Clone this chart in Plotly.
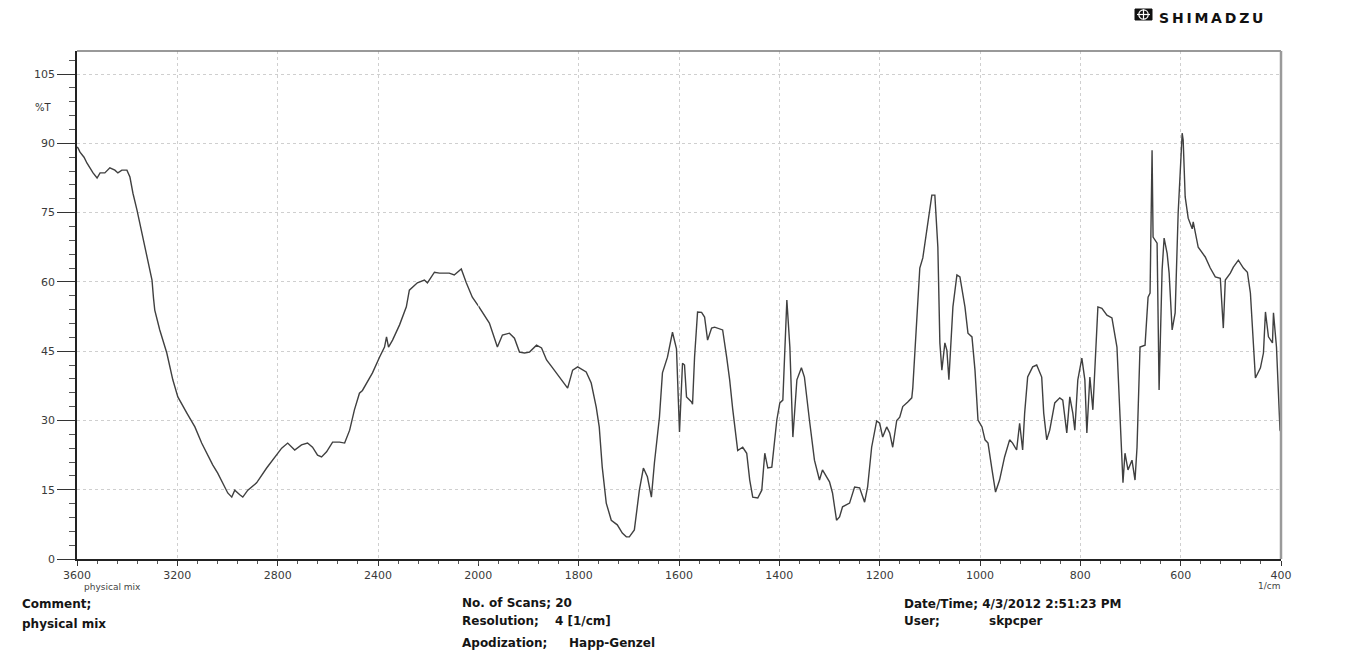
import plotly.graph_objects as go

# ---------------- data ----------------
WAVENUMBER = [
    3600, 3596, 3588, 3580, 3572, 3560, 3548, 3536, 3520, 3508, 3489, 3469, 3449, 3437,
    3421, 3401, 3389, 3377, 3361, 3341, 3317, 3301, 3295, 3290, 3270, 3242, 3218, 3198,
    3162, 3130, 3103, 3083, 3059, 3039, 3019, 2999, 2983, 2971, 2951, 2939, 2919, 2884,
    2844, 2804, 2784, 2760, 2732, 2705, 2681, 2661, 2641, 2625, 2605, 2581, 2553, 2533,
    2513, 2494, 2474, 2462, 2422, 2394, 2374, 2366, 2362, 2358, 2342, 2314, 2287, 2275,
    2243, 2215, 2203, 2175, 2155, 2116, 2096, 2068, 2048, 2024, 2000,
    1992, 1978, 1962, 1952, 1938, 1928, 1918, 1908, 1898, 1884, 1874, 1864, 1852, 1838,
    1824, 1822, 1812, 1802, 1785, 1775, 1765, 1759, 1753, 1745, 1735, 1723, 1713, 1705,
    1699, 1689, 1679, 1671, 1663, 1655, 1649, 1639, 1633, 1623, 1613, 1605, 1599, 1593,
    1589, 1585, 1575, 1573, 1569, 1563, 1555, 1549, 1543, 1535, 1529, 1519, 1513, 1505,
    1499, 1493, 1483, 1473, 1465, 1459, 1453, 1443, 1435, 1429, 1423, 1415, 1405, 1399,
    1393, 1385, 1379, 1373, 1365, 1356, 1350, 1340, 1330, 1320, 1314, 1300, 1294, 1286,
    1280, 1274, 1266, 1260, 1250, 1240, 1230, 1224, 1216, 1206, 1200, 1194, 1186, 1180,
    1174, 1166, 1160, 1154, 1144, 1136, 1134, 1126, 1120, 1114, 1104, 1096, 1090, 1084,
    1080, 1076, 1070, 1066, 1062, 1054, 1046, 1040, 1030, 1024, 1016, 1010, 1004, 996,
    990, 984, 976, 969, 961, 951, 941, 935, 927, 921, 915, 911, 905, 895, 887, 877, 873,
    867, 861, 851, 841, 835, 827, 821, 815, 811, 805, 797, 791, 787, 781, 775, 765, 757,
    747, 737, 727, 721, 715, 711, 705, 697, 691, 687, 681, 671, 665, 661, 657, 655, 647,
    643, 637, 633, 627, 623, 617, 611, 605, 597, 595, 591, 585, 577, 575, 565, 551, 541,
    531, 521, 515, 511, 501, 495, 485, 475, 467, 461, 451, 441, 435, 431, 425, 417, 415,
    409, 405, 402, 400,
]
TRANSMITTANCE = [
    89.2, 89.0, 88.1, 87.5, 87.0, 85.7, 84.5, 83.6, 82.5, 83.6, 83.6, 84.7, 84.2, 83.6,
    84.2, 84.2, 82.7, 79.2, 75.6, 70.6, 64.1, 60.4, 56.5, 53.9, 49.6, 44.6, 38.8, 35.1,
    31.6, 28.6, 25.1, 22.9, 20.4, 18.6, 16.5, 14.3, 13.4, 14.9, 13.9, 13.4, 14.9, 16.5,
    19.7, 22.5, 24.0, 25.1, 23.6, 24.7, 25.1, 24.2, 22.5, 22.1, 23.2, 25.3, 25.3, 25.1,
    27.9, 32.3, 35.9, 36.5, 40.3, 43.7, 45.9, 48.1, 46.5, 45.9, 47.4, 50.7, 54.6, 58.2,
    59.8, 60.4, 59.8, 62.1, 61.9, 61.9, 61.5, 62.8, 59.8, 56.7, 54.8,
    53.5, 51.1, 45.9, 48.5, 48.9, 47.8, 44.8, 44.6, 44.8, 46.3, 45.7, 43.1, 41.4, 39.4,
    37.2, 37.0, 40.9, 41.6, 40.5, 38.1, 32.9, 28.6, 19.9, 12.1, 8.4, 7.4, 5.6, 4.8,
    4.8, 6.3, 14.9, 19.7, 17.8, 13.4, 20.8, 30.7, 40.3, 43.7, 49.1, 45.5, 27.5, 42.4,
    42.0, 35.1, 34.0, 33.5, 43.7, 53.5, 53.4, 52.4, 47.4, 50.0, 50.2, 49.8, 49.6, 43.7,
    38.8, 32.5, 23.5, 24.2, 22.9, 17.1, 13.4, 13.2, 14.9, 22.9, 19.7, 19.9, 30.1, 33.8,
    34.4, 56.1, 45.9, 26.4, 38.8, 41.4, 39.4, 30.1, 21.4, 17.1, 19.3, 16.7, 14.3, 8.4,
    9.1, 11.3, 11.7, 12.1, 15.6, 15.4, 12.3, 15.6, 24.2, 29.9, 29.4, 26.4, 28.6, 27.3,
    24.2, 30.0, 30.7, 33.0, 34.0, 34.9, 37.0, 52.5, 63.0, 65.2, 72.7, 78.8, 78.8, 67.5,
    46.8, 40.9, 46.8, 45.2, 38.8, 54.6, 61.5, 61.1, 54.6, 48.9, 48.1, 40.9, 30.1, 28.6,
    25.8, 25.1, 19.3, 14.5, 17.1, 22.1, 25.8, 25.1, 23.6, 29.4, 23.6, 31.6, 39.4, 41.6,
    42.0, 39.4, 31.6, 25.8, 27.9, 33.8, 34.9, 34.4, 27.3, 35.1, 31.6, 27.9, 38.8, 43.5,
    38.8, 27.3, 39.4, 32.3, 54.6, 54.3, 52.8, 52.2, 45.9, 31.6, 16.5, 22.9, 19.3, 21.4,
    17.1, 24.2, 45.9, 46.3, 56.7, 57.6, 88.5, 69.7, 68.4, 36.6, 62.6, 69.5, 66.2, 61.9,
    49.6, 53.3, 74.9, 92.2, 90.7, 78.4, 73.8, 71.5, 73.0, 67.5, 65.4, 63.0, 61.1, 60.8,
    50.0, 60.4, 61.9, 63.2, 64.7, 63.0, 62.1, 57.6, 39.2, 41.4, 44.6, 53.5, 48.1, 46.8,
    53.3, 45.9, 37.2, 27.9, 27.5,
]
X_TICKS_LEFT = [3600, 3200, 2800, 2400, 2000]
X_TICKS_RIGHT = [1800, 1600, 1400, 1200, 1000, 800, 600, 400]
Y_TICKS = [0, 15, 30, 45, 60, 75, 90, 105]
SCALE_BREAK = 2000  # scale changes at 2000 1/cm

# ---------------- layout helpers ----------------
# the page body has an 8px margin, so the figure is drawn 8px right/down
PAGE_W, PAGE_H, BODY = 1364, 656, 8
W, H = PAGE_W - BODY, PAGE_H - BODY
L, R, T, B = 77, 1281, 51, 559   # plot area in page pixels


def pxx(x):
    return (x - L) / (R - L)


def pxy(y):
    return (B - y) / (B - T)


left_x = [w for w in WAVENUMBER if w >= SCALE_BREAK]
left_y = [t for w, t in zip(WAVENUMBER, TRANSMITTANCE) if w >= SCALE_BREAK]
right_x = [w for w in WAVENUMBER if w <= SCALE_BREAK]
right_y = [t for w, t in zip(WAVENUMBER, TRANSMITTANCE) if w <= SCALE_BREAK]

LINE = dict(color="#404040", width=1.4)
TICKFONT = dict(family="DejaVu Sans", size=11, color="#3a3a3a")
TEXTFONT = dict(family="DejaVu Sans", size=12, color="#151515", weight="bold")

fig = go.Figure()
fig.add_trace(go.Scatter(x=left_x, y=left_y, mode="lines", line=LINE,
                         xaxis="x", yaxis="y", showlegend=False, hoverinfo="skip"))
fig.add_trace(go.Scatter(x=right_x, y=right_y, mode="lines", line=LINE,
                         xaxis="x2", yaxis="y", showlegend=False, hoverinfo="skip"))

common = dict(
    showgrid=True, gridcolor="#cfcfcf", griddash="dot", gridwidth=1,
    zeroline=False, showline=True, linecolor="#222", linewidth=1.5,
    ticks="outside", tickcolor="#333", tickwidth=1, tickfont=TICKFONT,
)

fig.update_layout(
    width=W, height=H,
    margin=dict(l=L - BODY, r=PAGE_W - R, t=T - BODY, b=PAGE_H - B, pad=0),
    paper_bgcolor="white", plot_bgcolor="white",
    xaxis=dict(domain=[0, 1 / 3], range=[3600, 2000], tickmode="array",
               tickvals=X_TICKS_LEFT, ticklen=5, anchor="y",
               minor=dict(tickmode="linear", tick0=0, dtick=80, ticks="outside",
                          ticklen=3, tickcolor="#555", showgrid=False),
               **common),
    xaxis2=dict(domain=[1 / 3, 1], range=[2000, 400], tickmode="array",
                tickvals=X_TICKS_RIGHT, ticklen=5, anchor="y",
                minor=dict(tickmode="linear", tick0=0, dtick=40, ticks="outside",
                           ticklen=3, tickcolor="#555", showgrid=False),
                **common),
    yaxis=dict(range=[0, 110], tickmode="array", tickvals=Y_TICKS, ticklen=18,
               anchor="x",
               minor=dict(tickmode="linear", tick0=0, dtick=3, ticks="outside",
                          ticklen=6, tickcolor="#555", showgrid=False),
               **common),
)

shapes = [
    # frame top and right
    dict(type="line", xref="paper", yref="paper", x0=0, x1=1, y0=1, y1=1,
         line=dict(color="#777", width=1.5)),
    dict(type="line", xref="paper", yref="paper", x0=1, x1=1, y0=0, y1=1,
         line=dict(color="#9a9a9a", width=2.5)),
    # SHIMADZU logo mark
    dict(type="rect", xref="paper", yref="paper", x0=pxx(1135), x1=pxx(1152),
         y0=pxy(20), y1=pxy(9), fillcolor="#111", line=dict(color="#111", width=1)),
    dict(type="circle", xref="paper", yref="paper", x0=pxx(1138.8), x1=pxx(1148.2),
         y0=pxy(19.2), y1=pxy(9.8), line=dict(color="white", width=1.2)),
    dict(type="line", xref="paper", yref="paper", x0=pxx(1137), x1=pxx(1150),
         y0=pxy(14.5), y1=pxy(14.5), line=dict(color="white", width=1.2)),
    dict(type="line", xref="paper", yref="paper", x0=pxx(1143.5), x1=pxx(1143.5),
         y0=pxy(19.5), y1=pxy(9.5), line=dict(color="white", width=1.2)),
]

small = dict(family="DejaVu Sans", size=9, color="#444")
SP = "\u2009"
ann = [
    dict(text="%T", x=pxx(54), y=97.7, xref="paper", yref="y", xanchor="right",
         yanchor="middle", showarrow=False, font=dict(family="DejaVu Sans", size=10, color="#333")),
    dict(text="physical mix", x=pxx(112), y=pxy(587), xanchor="center", font=small),
    dict(text="1/cm", x=pxx(1282), y=pxy(586), xanchor="right", font=small),
    dict(text="Comment;", x=pxx(20), y=pxy(604), xanchor="left", font=TEXTFONT),
    dict(text="physical mix", x=pxx(20), y=pxy(624), xanchor="left", font=TEXTFONT),
    dict(text="No. of Scans; 20", x=pxx(460), y=pxy(603), xanchor="left", font=TEXTFONT),
    dict(text="Resolution;", x=pxx(460), y=pxy(621), xanchor="left", font=TEXTFONT),
    dict(text="4 [1/cm]", x=pxx(553), y=pxy(621), xanchor="left", font=TEXTFONT),
    dict(text="Apodization;", x=pxx(460), y=pxy(643), xanchor="left", font=TEXTFONT),
    dict(text="Happ-Genzel", x=pxx(567), y=pxy(643), xanchor="left", font=TEXTFONT),
    dict(text="Date/Time; 4/3/2012 2:51:23 PM", x=pxx(902), y=pxy(604), xanchor="left", font=TEXTFONT),
    dict(text="User;", x=pxx(902), y=pxy(621), xanchor="left", font=TEXTFONT),
    dict(text="skpcper", x=pxx(987), y=pxy(621), xanchor="left", font=TEXTFONT),
    dict(text=SP.join("SHIMADZU"), x=pxx(1157), y=pxy(8), yanchor="top",
         xanchor="left", font=dict(family="DejaVu Sans", size=14, color="#111", weight="bold")),
]
for a in ann:
    a.setdefault("xref", "paper")
    a.setdefault("yref", "paper")
    a.setdefault("yanchor", "middle")
    a.setdefault("showarrow", False)

fig.update_layout(shapes=shapes, annotations=ann)
fig.write_html("out.html")
